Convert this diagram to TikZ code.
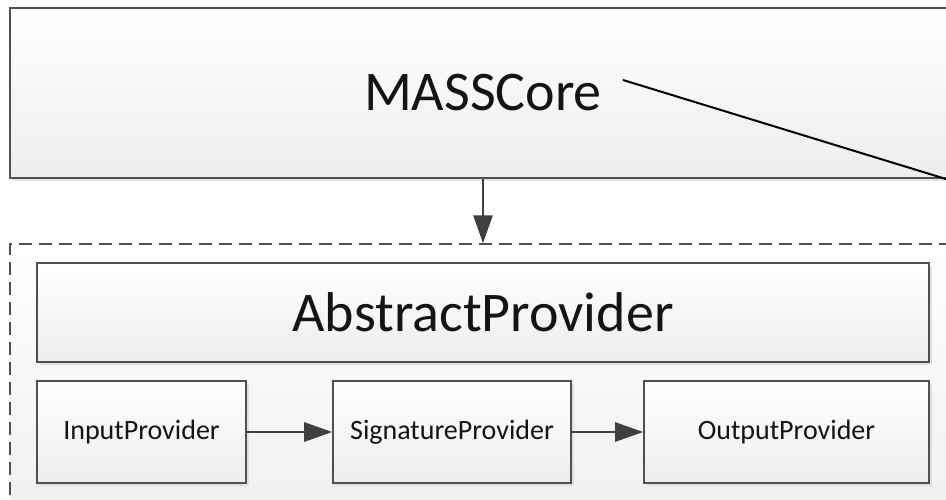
\documentclass[tikz,border=0pt]{standalone}
\usepackage{fontspec}
\setmainfont{Carlito}
\usetikzlibrary{arrows.meta,shadows}
\definecolor{edge}{HTML}{505050}
\definecolor{arrowc}{HTML}{404040}
\definecolor{ink}{HTML}{141414}
\tikzset{
  block/.style={draw=edge, line width=1.6pt, rectangle, inner sep=0pt,
    top color=white, bottom color=black!7, text=ink,
    drop shadow={shadow xshift=2.5pt, shadow yshift=-2.5pt, fill=black!14, opacity=0.8}},
  bigtext/.style={font=\fontsize{56}{60}\selectfont},
  smalltext/.style={font=\fontsize{28}{32}\selectfont},
  group/.style={draw=edge, line width=1.4pt, dash pattern=on 13pt off 7pt, rectangle,
    inner sep=0pt, top color=white, bottom color=black!6},
  flow/.style={draw=arrowc, line width=2.8pt, -{Triangle[length=28pt,width=19pt]}},
  link/.style={draw=black, line width=2pt}
}
\begin{document}
\begin{tikzpicture}[x=1pt,y=-1pt]
  \clip (0,0) rectangle (946,499);
  \fill[white] (0,0) rectangle (946,499);

  % core component (runs past the right edge)
  \node[block, bigtext, minimum width=946pt, minimum height=170pt] (mass) at (483,93) {MASSCore};

  % provider group with dashed outline
  \node[group, minimum width=946pt, minimum height=270pt] (grp) at (483,379) {};

  \node[block, bigtext, minimum width=892pt, minimum height=99pt] (abs) at (483,312.5) {AbstractProvider};
  \node[block, smalltext, minimum width=209pt, minimum height=102pt] (inp) at (141.5,432) {InputProvider};
  \node[block, smalltext, minimum width=238pt, minimum height=102pt] (sig) at (452,432) {SignatureProvider};
  \node[block, smalltext, minimum width=285pt, minimum height=102pt] (out) at (786.5,432) {OutputProvider};

  % connectors
  \draw[flow] (mass.south) -- (grp.north);
  \draw[flow] (inp.east) -- (sig.west);
  \draw[flow] (sig.east) -- (out.west);

  \coordinate (ls) at (623,80);
  \coordinate (le) at (990,192.5);
  \draw[link] (ls) -- (le);
\end{tikzpicture}
\end{document}
